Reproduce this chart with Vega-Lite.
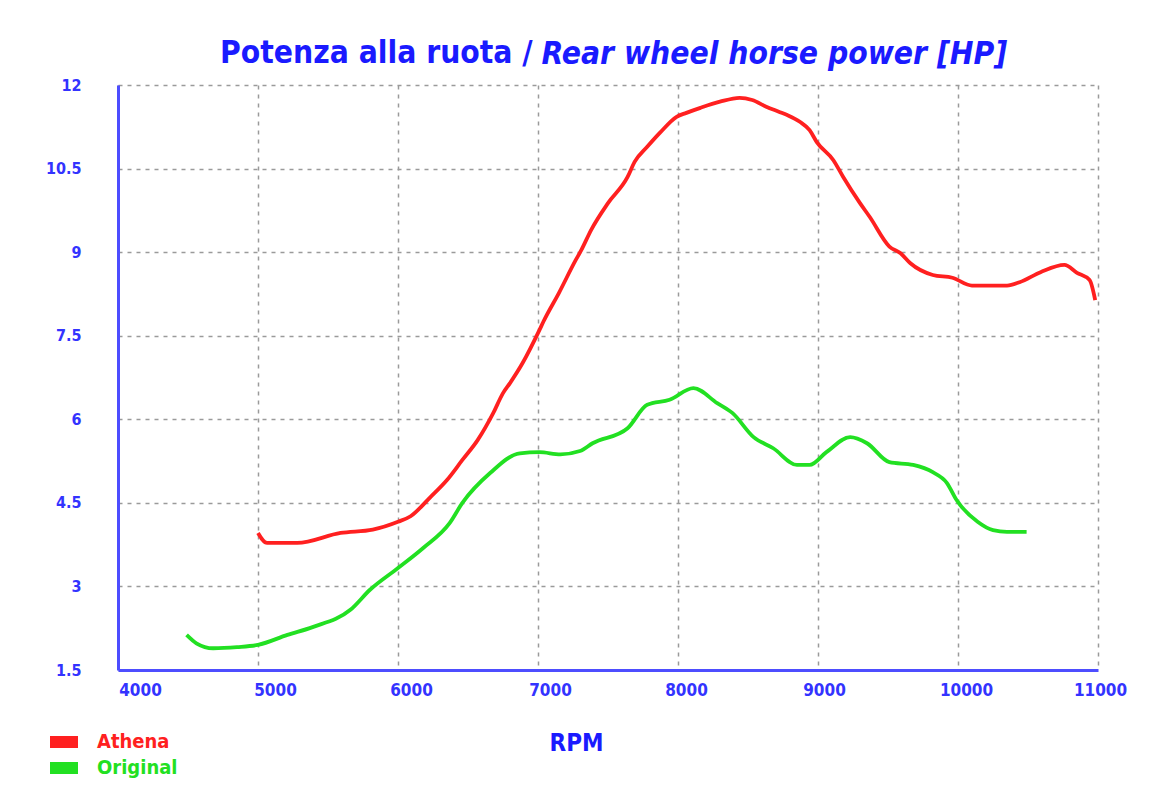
{
  "$schema": "https://vega.github.io/schema/vega-lite/v6.json",
  "width": 980,
  "height": 585,
  "autosize": "none",
  "padding": {"left": 118, "top": 85, "right": 65, "bottom": 127},
  "background": "white",
  "title": {
    "text": "Potenza alla ruota /",
    "anchor": "start",
    "frame": "group",
    "dx": 102,
    "dy": 35,
    "fontSize": 31.5,
    "font": "DejaVu Sans Condensed, sans-serif",
    "fontWeight": "bold",
    "color": "#1a1aff"
  },
  "data": {
    "values": [
      {"rpm": 5000, "hp": 3.96, "series": "Athena"},
      {"rpm": 5065, "hp": 3.78, "series": "Athena"},
      {"rpm": 5280, "hp": 3.78, "series": "Athena"},
      {"rpm": 5590, "hp": 3.96, "series": "Athena"},
      {"rpm": 5820, "hp": 4.02, "series": "Athena"},
      {"rpm": 6000, "hp": 4.16, "series": "Athena"},
      {"rpm": 6090, "hp": 4.26, "series": "Athena"},
      {"rpm": 6230, "hp": 4.6, "series": "Athena"},
      {"rpm": 6350, "hp": 4.91, "series": "Athena"},
      {"rpm": 6460, "hp": 5.27, "series": "Athena"},
      {"rpm": 6570, "hp": 5.63, "series": "Athena"},
      {"rpm": 6680, "hp": 6.11, "series": "Athena"},
      {"rpm": 6750, "hp": 6.47, "series": "Athena"},
      {"rpm": 6800, "hp": 6.65, "series": "Athena"},
      {"rpm": 6890, "hp": 7.01, "series": "Athena"},
      {"rpm": 7010, "hp": 7.6, "series": "Athena"},
      {"rpm": 7040, "hp": 7.76, "series": "Athena"},
      {"rpm": 7150, "hp": 8.27, "series": "Athena"},
      {"rpm": 7270, "hp": 8.86, "series": "Athena"},
      {"rpm": 7310, "hp": 9.04, "series": "Athena"},
      {"rpm": 7380, "hp": 9.4, "series": "Athena"},
      {"rpm": 7500, "hp": 9.88, "series": "Athena"},
      {"rpm": 7640, "hp": 10.35, "series": "Athena"},
      {"rpm": 7690, "hp": 10.62, "series": "Athena"},
      {"rpm": 7780, "hp": 10.89, "series": "Athena"},
      {"rpm": 7870, "hp": 11.14, "series": "Athena"},
      {"rpm": 7990, "hp": 11.43, "series": "Athena"},
      {"rpm": 8060, "hp": 11.5, "series": "Athena"},
      {"rpm": 8160, "hp": 11.59, "series": "Athena"},
      {"rpm": 8300, "hp": 11.7, "series": "Athena"},
      {"rpm": 8440, "hp": 11.77, "series": "Athena"},
      {"rpm": 8530, "hp": 11.73, "series": "Athena"},
      {"rpm": 8630, "hp": 11.61, "series": "Athena"},
      {"rpm": 8720, "hp": 11.52, "series": "Athena"},
      {"rpm": 8780, "hp": 11.46, "series": "Athena"},
      {"rpm": 8870, "hp": 11.34, "series": "Athena"},
      {"rpm": 8940, "hp": 11.19, "series": "Athena"},
      {"rpm": 8990, "hp": 10.98, "series": "Athena"},
      {"rpm": 9110, "hp": 10.65, "series": "Athena"},
      {"rpm": 9180, "hp": 10.35, "series": "Athena"},
      {"rpm": 9300, "hp": 9.88, "series": "Athena"},
      {"rpm": 9370, "hp": 9.63, "series": "Athena"},
      {"rpm": 9510, "hp": 9.1, "series": "Athena"},
      {"rpm": 9590, "hp": 8.98, "series": "Athena"},
      {"rpm": 9660, "hp": 8.8, "series": "Athena"},
      {"rpm": 9820, "hp": 8.59, "series": "Athena"},
      {"rpm": 9960, "hp": 8.54, "series": "Athena"},
      {"rpm": 10100, "hp": 8.4, "series": "Athena"},
      {"rpm": 10350, "hp": 8.4, "series": "Athena"},
      {"rpm": 10440, "hp": 8.46, "series": "Athena"},
      {"rpm": 10590, "hp": 8.64, "series": "Athena"},
      {"rpm": 10760, "hp": 8.77, "series": "Athena"},
      {"rpm": 10850, "hp": 8.63, "series": "Athena"},
      {"rpm": 10940, "hp": 8.5, "series": "Athena"},
      {"rpm": 10980, "hp": 8.14, "series": "Athena"},
      {"rpm": 4490, "hp": 2.13, "series": "Original"},
      {"rpm": 4560, "hp": 1.98, "series": "Original"},
      {"rpm": 4680, "hp": 1.89, "series": "Original"},
      {"rpm": 4850, "hp": 1.91, "series": "Original"},
      {"rpm": 5000, "hp": 1.95, "series": "Original"},
      {"rpm": 5210, "hp": 2.13, "series": "Original"},
      {"rpm": 5390, "hp": 2.27, "series": "Original"},
      {"rpm": 5660, "hp": 2.58, "series": "Original"},
      {"rpm": 5800, "hp": 2.94, "series": "Original"},
      {"rpm": 6000, "hp": 3.33, "series": "Original"},
      {"rpm": 6180, "hp": 3.69, "series": "Original"},
      {"rpm": 6370, "hp": 4.14, "series": "Original"},
      {"rpm": 6460, "hp": 4.5, "series": "Original"},
      {"rpm": 6660, "hp": 5.04, "series": "Original"},
      {"rpm": 6870, "hp": 5.39, "series": "Original"},
      {"rpm": 7010, "hp": 5.41, "series": "Original"},
      {"rpm": 7160, "hp": 5.37, "series": "Original"},
      {"rpm": 7300, "hp": 5.43, "series": "Original"},
      {"rpm": 7390, "hp": 5.57, "series": "Original"},
      {"rpm": 7640, "hp": 5.84, "series": "Original"},
      {"rpm": 7780, "hp": 6.26, "series": "Original"},
      {"rpm": 7940, "hp": 6.35, "series": "Original"},
      {"rpm": 8110, "hp": 6.56, "series": "Original"},
      {"rpm": 8280, "hp": 6.29, "series": "Original"},
      {"rpm": 8390, "hp": 6.11, "series": "Original"},
      {"rpm": 8540, "hp": 5.68, "series": "Original"},
      {"rpm": 8680, "hp": 5.48, "series": "Original"},
      {"rpm": 8850, "hp": 5.18, "series": "Original"},
      {"rpm": 8940, "hp": 5.18, "series": "Original"},
      {"rpm": 9060, "hp": 5.41, "series": "Original"},
      {"rpm": 9230, "hp": 5.68, "series": "Original"},
      {"rpm": 9350, "hp": 5.57, "series": "Original"},
      {"rpm": 9510, "hp": 5.23, "series": "Original"},
      {"rpm": 9680, "hp": 5.18, "series": "Original"},
      {"rpm": 9820, "hp": 5.05, "series": "Original"},
      {"rpm": 9920, "hp": 4.86, "series": "Original"},
      {"rpm": 9990, "hp": 4.55, "series": "Original"},
      {"rpm": 10140, "hp": 4.16, "series": "Original"},
      {"rpm": 10250, "hp": 4.01, "series": "Original"},
      {"rpm": 10350, "hp": 3.98, "series": "Original"},
      {"rpm": 10490, "hp": 3.98, "series": "Original"}
    ]
  },
  "mark": {"type": "line", "strokeWidth": 3.8, "interpolate": "monotone", "clip": true},
  "encoding": {
    "x": {
      "field": "rpm",
      "type": "quantitative",
      "scale": {"domain": [4000, 11000], "nice": false, "zero": false},
      "axis": {
        "values": [4000, 5000, 6000, 7000, 8000, 9000, 10000, 11000],
        "format": "d",
        "title": "RPM",
        "titleX": 458,
        "titleY": 80,
        "titleAlign": "center",
        "titleBaseline": "alphabetic",
        "titleFontSize": 24,
        "titleFontWeight": "bold",
        "titleColor": "#1a1aff",
        "titleFont": "DejaVu Sans Condensed, sans-serif",
        "labelFont": "DejaVu Sans Condensed, sans-serif",
        "labelFontSize": 17,
        "labelFontWeight": "bold",
        "labelColor": "#3333ff",
        "labelPadding": 12,
        "labelFlush": false,
        "labelOffset": {"expr": "datum.value == 4000 ? 22 : datum.value == 5000 ? 17 : datum.value == 6000 ? 13 : datum.value == 7000 ? 12 : datum.value == 8000 ? 8 : datum.value == 9000 ? 6 : datum.value == 10000 ? 8 : 2"},
        "ticks": false,
        "domainColor": "#4d4dff",
        "domainWidth": 3,
        "grid": true,
        "gridColor": "#9a9a9a",
        "gridDash": [4, 5],
        "gridWidth": 1.5
      }
    },
    "y": {
      "field": "hp",
      "type": "quantitative",
      "scale": {"domain": [1.5, 12], "nice": false, "zero": false},
      "axis": {
        "values": [1.5, 3, 4.5, 6, 7.5, 9, 10.5, 12],
        "format": ".1~f",
        "title": "Rear wheel horse power [HP]",
        "titleAngle": 0,
        "titleX": 423,
        "titleY": -22,
        "titleAlign": "left",
        "titleBaseline": "alphabetic",
        "titleFontSize": 31.5,
        "titleFontWeight": "bold",
        "titleFontStyle": "italic",
        "titleColor": "#1a1aff",
        "titleFont": "DejaVu Sans Condensed, sans-serif",
        "labelFont": "DejaVu Sans Condensed, sans-serif",
        "labelFontSize": 16,
        "labelFontWeight": "bold",
        "labelColor": "#3333ff",
        "labelPadding": 37,
        "ticks": false,
        "domainColor": "#4d4dff",
        "domainWidth": 3,
        "grid": true,
        "gridColor": "#9a9a9a",
        "gridDash": [4, 5],
        "gridWidth": 1.5
      }
    },
    "color": {
      "field": "series",
      "type": "nominal",
      "scale": {"domain": ["Athena", "Original"], "range": ["#ff2020", "#22e022"]},
      "legend": {
        "title": null,
        "orient": "none",
        "legendX": -74,
        "legendY": 644,
        "symbolType": "stroke",
        "symbolSize": 784,
        "symbolStrokeWidth": 12,
        "clipHeight": 26,
        "rowPadding": 0,
        "labelFont": "DejaVu Sans Condensed, sans-serif",
        "labelFontSize": 20,
        "labelFontWeight": "bold",
        "labelOffset": 13,
        "labelColor": {"expr": "datum.label == 'Athena' ? '#ff2020' : '#22e022'"}
      }
    }
  },
  "config": {
    "view": {"stroke": null}
  }
}
